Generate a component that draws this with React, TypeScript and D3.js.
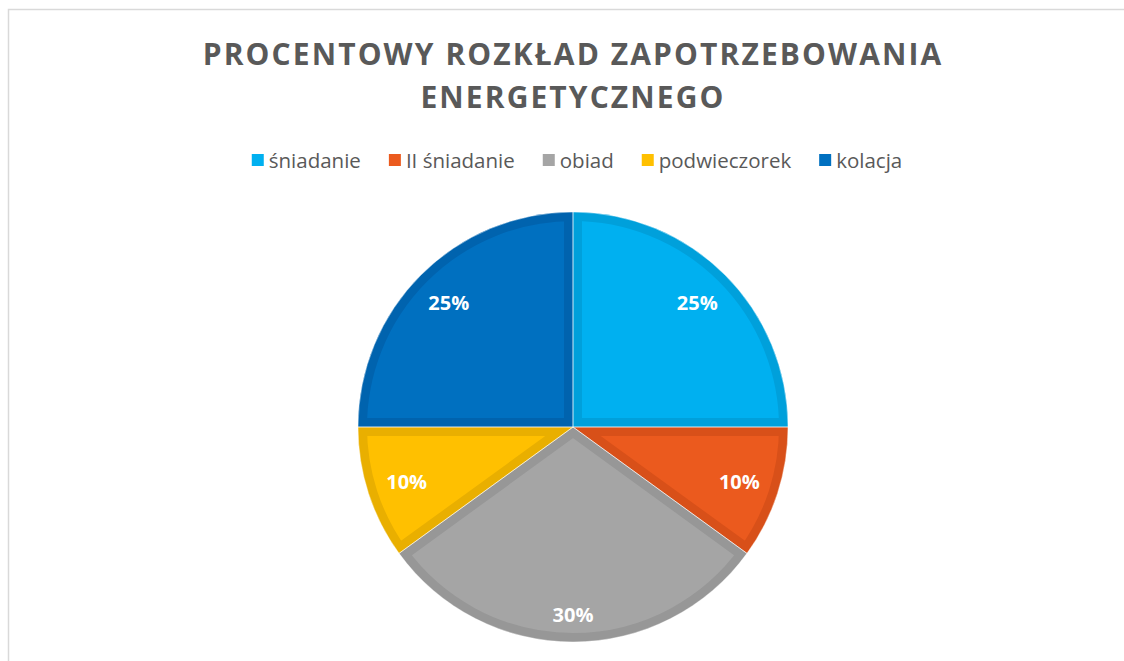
import React, { useEffect, useRef } from "react";
import * as d3 from "d3";

const titleLines = ["PROCENTOWY ROZKŁAD ZAPOTRZEBOWANIA", "ENERGETYCZNEGO"];
const categories = ["śniadanie", "II śniadanie", "obiad", "podwieczorek", "kolacja"];
const values = [25, 10, 30, 10, 25];
const fills = ["#00B0F0", "#EB5A1E", "#A5A5A5", "#FFC000", "#0070C0"];
const bands = ["#00A0DB", "#D85019", "#979797", "#E9AF00", "#0063AE"];

const W = 1124;
const H = 661;

export default function App() {
  const ref = useRef<SVGSVGElement | null>(null);

  useEffect(() => {
    const svg = d3.select(ref.current);
    svg.selectAll("*").remove();

    // chart border
    svg.append("rect")
      .attr("x", 8.5).attr("y", 9.5)
      .attr("width", W + 50).attr("height", H + 50)
      .attr("fill", "#fff").attr("stroke", "#D9D9D9").attr("stroke-width", 1.5);

    // title
    const title = svg.append("text")
      .attr("text-anchor", "middle")
      .attr("font-family", "'Open Sans', sans-serif")
      .attr("font-weight", 700)
      .attr("font-size", 30)
      .attr("letter-spacing", 2.1)
      .attr("fill", "#595959");
    titleLines.forEach((t, i) => {
      title.append("tspan").attr("x", 573).attr("y", 65 + i * 43).text(t);
    });

    // legend
    const legend = svg.append("g");
    const items = legend.selectAll("g.item").data(categories).join("g").attr("class", "item");
    items.append("rect").attr("width", 12).attr("height", 12).attr("y", 154)
      .attr("fill", (_, i) => fills[i]);
    const texts = items.append("text")
      .attr("font-family", "'Open Sans', sans-serif")
      .attr("font-size", 20.5)
      .attr("fill", "#595959")
      .attr("y", 168)
      .attr("x", 17)
      .text(d => d);
    const widths: number[] = [];
    texts.each(function () { widths.push((this as SVGTextElement).getComputedTextLength()); });
    const gap = 28;
    const total = d3.sum(widths.map(w => 17 + w)) + gap * (widths.length - 1);
    let x = 577 - total / 2;
    items.attr("transform", (_, i) => {
      const tx = x;
      x += 17 + widths[i] + gap;
      return `translate(${tx},0)`;
    });

    // pie
    const cx = 573, cy = 427, r = 215;
    const pie = d3.pie<number>().sort(null).value(d => d);
    const arcs = pie(values);
    const arc = d3.arc<d3.PieArcDatum<number>>().innerRadius(0).outerRadius(r);
    const g = svg.append("g").attr("transform", `translate(${cx},${cy})`);
    const defs = svg.append("defs");
    arcs.forEach((a, i) => {
      defs.append("clipPath").attr("id", `clip${i}`).append("path").attr("d", arc(a) as string);
    });
    g.selectAll("path.slice").data(arcs).join("path")
      .attr("class", "slice")
      .attr("d", d => arc(d) as string)
      .attr("fill", (_, i) => fills[i])
      .attr("stroke", (_, i) => bands[i])
      .attr("stroke-width", 18)
      .attr("stroke-linejoin", "miter")
      .attr("clip-path", (_, i) => `url(#clip${i})`);
    g.selectAll("path.sep").data(arcs).join("path")
      .attr("class", "sep")
      .attr("d", d => arc(d) as string)
      .attr("fill", "none")
      .attr("stroke", "#ffffff")
      .attr("stroke-opacity", 0.6)
      .attr("stroke-width", 0.8);

    // labels (inside end)
    const hw = 20, hh = 10, margin = 18;
    g.selectAll("text.lbl").data(arcs).join("text")
      .attr("class", "lbl")
      .attr("font-family", "'Open Sans', sans-serif")
      .attr("font-weight", 700)
      .attr("font-size", 20)
      .attr("fill", "#fff")
      .attr("text-anchor", "middle")
      .attr("dominant-baseline", "central")
      .attr("transform", d => {
        const m = (d.startAngle + d.endAngle) / 2;
        const s = Math.sin(m), c = -Math.cos(m);
        const dist = r - margin - (hw * Math.abs(s) + hh * Math.abs(c));
        return `translate(${s * dist},${c * dist})`;
      })
      .text(d => `${d.data}%`);
  }, []);

  return (
    <svg ref={ref} width={W} height={H}
      style={{ position: "absolute", left: 0, top: 0, display: "block", background: "#fff" }} />
  );
}
